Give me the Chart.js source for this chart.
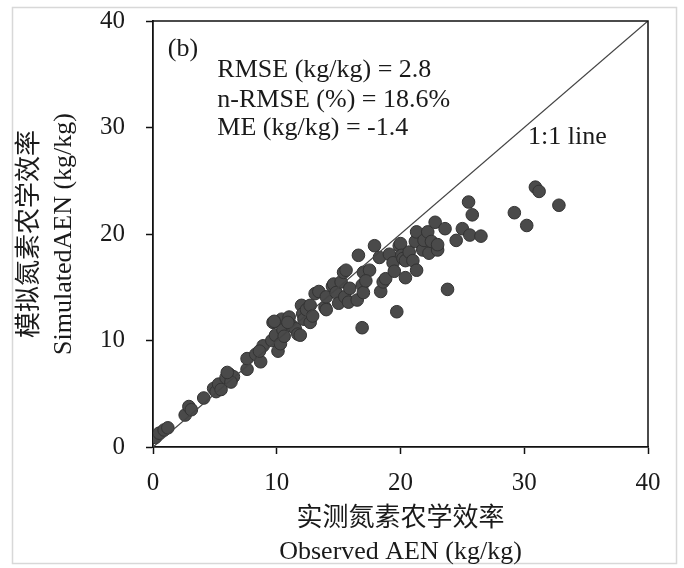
<!DOCTYPE html>
<html>
<head>
<meta charset="utf-8">
<script src="https://cdn.jsdelivr.net/npm/chart.js@4"></script>
<style>
html,body{margin:0;padding:0;background:#fff;}
canvas{display:block;}
</style>
</head>
<body>
<canvas id="c" width="684" height="568"></canvas>
<script>
// Observed AEN (x) and simulated AEN (y), kg/kg
const observed = [0.2,0.5,0.9,1.2,2.6,2.9,3.1,4.1,4.9,5.1,5.3,5.5,5.9,6.2,6.5,6.3,7.6,7.6,8.3,8.7,
  8.9,8.6,9.6,9.7,9.9,10.1,10.3,10.4,10.5,10.6,11.0,11.2,11.5,11.7,11.9,12.0,12.1,12.2,12.4,12.7,
  12.7,12.9,13.1,13.4,13.9,14.0,14.5,14.6,14.8,15.0,15.2,15.4,15.5,15.8,15.9,16.5,16.6,16.9,16.9,17.0,
  17.0,17.5,17.2,17.9,18.3,18.4,18.6,18.8,19.1,19.4,19.5,19.7,19.9,20.0,20.1,20.2,20.4,20.4,20.7,21.0,
  21.2,21.3,21.3,21.8,21.9,22.2,22.3,22.5,22.8,23.0,23.0,23.6,23.8,24.5,25.0,25.5,25.6,25.8,26.5,29.2,
  30.2,30.9,31.2,32.8,9.8,10.9,14.0,6.0,15.6];
const simulated = [0.9,1.3,1.6,1.8,3.0,3.8,3.5,4.6,5.5,5.2,5.9,5.4,6.5,6.8,6.6,6.1,7.3,8.3,8.7,8.0,
  9.5,9.0,10.0,11.7,10.5,9.0,9.7,12.0,11.0,10.4,12.2,11.4,11.1,10.6,10.5,13.3,12.5,12.0,12.9,11.7,
  13.3,12.3,14.4,14.6,13.1,14.1,15.1,15.3,14.5,13.5,15.5,16.4,14.1,13.6,14.9,13.8,18.0,11.2,15.2,14.5,
  16.4,16.6,15.6,18.9,17.8,14.6,15.5,15.8,18.1,17.3,16.5,12.7,18.9,19.1,18.0,17.7,15.9,17.5,18.3,17.5,
  19.3,20.2,16.6,18.5,19.4,20.2,18.2,19.3,21.1,18.5,19.0,20.5,14.8,19.4,20.5,23.0,19.9,21.8,19.8,22.0,
  20.8,24.4,24.0,22.7,11.8,11.7,12.9,7.0,16.6];
const lineX = [0, 40];
const lineY = [0, 40];
const xTitle = ['实测氮素农学效率', 'Observed AEN (kg/kg)'];
const yTitle = ['模拟氮素农学效率', 'SimulatedAEN (kg/kg)'];
const statsText = ['RMSE (kg/kg) = 2.8', 'n-RMSE (%) = 18.6%', 'ME (kg/kg) = -1.4'];
const panelLabel = '(b)';
const lineLabel = '1:1 line';

const FONT = "'Liberation Serif', 'Noto Sans CJK SC', serif";
const points = observed.map((v, i) => ({x: v, y: simulated[i]}));
const linePts = lineX.map((v, i) => ({x: v, y: lineY[i]}));

const decor = {
  id: 'decor',
  beforeDraw(chart) {
    const ctx = chart.ctx;
    ctx.save();
    ctx.fillStyle = '#fff';
    ctx.fillRect(0, 0, chart.width, chart.height);
    ctx.strokeStyle = '#d8d8d8';
    ctx.lineWidth = 1.5;
    ctx.strokeRect(12.5, 7.5, 664, 556);
    ctx.restore();
  },
  afterDraw(chart) {
    const ctx = chart.ctx;
    const a = chart.chartArea;
    const xs = chart.scales.x, ys = chart.scales.y;
    ctx.save();
    ctx.strokeStyle = '#111';
    ctx.lineWidth = 1.5;
    ctx.beginPath();
    ctx.moveTo(a.left, a.top);
    ctx.lineTo(a.right, a.top);
    ctx.lineTo(a.right, a.bottom);
    ctx.stroke();
    ctx.fillStyle = '#1a1a1a';
    ctx.font = '26px ' + FONT;
    ctx.textBaseline = 'middle';
    ctx.textAlign = 'left';
    ctx.fillText(panelLabel, xs.getPixelForValue(1.2), ys.getPixelForValue(37.4));
    const sy = [35.4, 32.6, 29.9];
    statsText.forEach((t, i) => ctx.fillText(t, xs.getPixelForValue(5.2), ys.getPixelForValue(sy[i])));
    ctx.fillText(lineLabel, xs.getPixelForValue(30.3), ys.getPixelForValue(29.1));
    ctx.restore();
  }
};

new Chart(document.getElementById('c'), {
  type: 'scatter',
  data: {
    datasets: [
      {
        type: 'line', data: linePts, borderColor: '#444', borderWidth: 1.3,
        pointRadius: 0, fill: false, tension: 0
      },
      {
        data: points, backgroundColor: '#4a4a4a', borderColor: '#333',
        borderWidth: 1, pointRadius: 6.3, pointHoverRadius: 6.3
      }
    ]
  },
  options: {
    responsive: false,
    animation: false,
    events: [],
    layout: {padding: {top: 21, right: 36, left: 0, bottom: 0}},
    plugins: {legend: {display: false}, tooltip: {enabled: false}},
    scales: {
      x: {
        type: 'linear', min: 0, max: 40,
        afterFit(s) { s.height = 121; s.paddingLeft = 0; s.paddingRight = 0; },
        ticks: {stepSize: 10, color: '#1a1a1a', padding: 14, font: {family: FONT, size: 25}},
        grid: {drawOnChartArea: false, drawTicks: true, tickLength: 7, color: '#111', tickWidth: 1.5},
        border: {color: '#111', width: 1.8},
        title: {display: true, text: xTitle, color: '#1a1a1a', padding: 0,
          font: {family: FONT, size: 26, lineHeight: 1.25}}
      },
      y: {
        type: 'linear', min: 0, max: 40,
        afterFit(s) { s.width = 153; s.paddingTop = 0; s.paddingBottom = 0; },
        ticks: {stepSize: 10, color: '#1a1a1a', padding: 21, font: {family: FONT, size: 25}},
        grid: {drawOnChartArea: false, drawTicks: true, tickLength: 7, color: '#111', tickWidth: 1.5},
        border: {color: '#111', width: 1.8},
        title: {display: true, text: yTitle, color: '#1a1a1a', padding: {top: 13, bottom: 0},
          font: {family: FONT, size: 26, lineHeight: 1.3}}
      }
    }
  },
  plugins: [decor]
});
</script>
</body>
</html>
